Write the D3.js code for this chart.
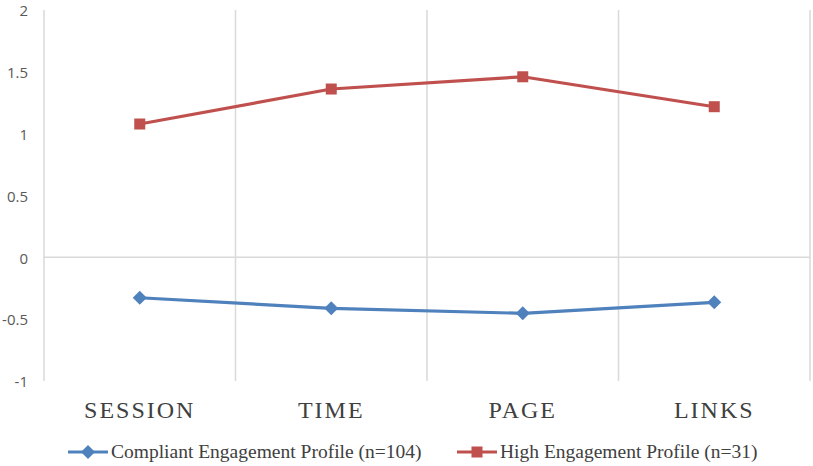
<!DOCTYPE html>
<html>
<head>
<meta charset="utf-8">
<script src="https://cdn.jsdelivr.net/npm/d3@7.9.0/dist/d3.min.js"></script>
<style>
  body { margin: 0; background: #fff; }
  svg { display: block; }
</style>
</head>
<body>
<svg id="chart" width="813" height="466"></svg>
<script>
const categories = ['SESSION', 'TIME', 'PAGE', 'LINKS'];
const compliant = [-0.327, -0.412, -0.453, -0.364];
const high = [1.078, 1.361, 1.46, 1.218];
const yTicks = [-1, -0.5, 0, 0.5, 1, 1.5, 2];
const seriesNames = ['Compliant Engagement Profile (n=104)', 'High Engagement Profile (n=31)'];

const blue = '#4f81bd';
const red = '#c0504d';

const svg = d3.select('#chart');
const margin = { top: 10, right: 3, bottom: 85, left: 44 };
const width = 813 - margin.left - margin.right;
const height = 466 - margin.top - margin.bottom;

const x = d3.scaleBand().domain(categories).range([margin.left, margin.left + width]);
const y = d3.scaleLinear().domain([-1, 2]).range([margin.top + height, margin.top]);
const cx = (i) => x(categories[i]) + x.bandwidth() / 2;

// vertical gridlines at band edges
const edges = categories.map((c) => x(c)).concat([x(categories[categories.length - 1]) + x.bandwidth()]);
svg.append('g')
  .selectAll('line')
  .data(edges)
  .join('line')
  .attr('x1', (d) => d).attr('x2', (d) => d)
  .attr('y1', y(2)).attr('y2', y(-1))
  .attr('stroke', '#d9d9d9')
  .attr('stroke-width', 1.5);

// zero line
svg.append('line')
  .attr('x1', margin.left).attr('x2', margin.left + width)
  .attr('y1', y(0)).attr('y2', y(0))
  .attr('stroke', '#d9d9d9')
  .attr('stroke-width', 1.5);

// y tick labels
svg.append('g')
  .selectAll('text')
  .data(yTicks)
  .join('text')
  .attr('x', 28)
  .attr('y', (d) => y(d) + 1)
  .attr('dy', '0.35em')
  .attr('text-anchor', 'end')
  .attr('font-family', 'Open Sans, sans-serif')
  .attr('font-size', 15)
  .attr('fill', '#595959')
  .text((d) => d);

// x labels
svg.append('g')
  .selectAll('text')
  .data(categories)
  .join('text')
  .attr('x', (d) => x(d) + x.bandwidth() / 2)
  .attr('y', 418)
  .attr('text-anchor', 'middle')
  .attr('font-family', 'Liberation Serif, Times New Roman, serif')
  .attr('font-size', 24)
  .attr('letter-spacing', 2)
  .attr('fill', '#404040')
  .text((d) => d);

const line = d3.line()
  .x((d, i) => cx(i))
  .y((d) => y(d));

function marker(sel, type, color) {
  if (type === 'square') {
    sel.append('rect')
      .attr('x', -5.5).attr('y', -5.5)
      .attr('width', 11).attr('height', 11)
      .attr('fill', color);
  } else {
    sel.append('path')
      .attr('d', 'M0,-7L7,0L0,7L-7,0Z')
      .attr('fill', color);
  }
}

function drawSeries(values, color, type) {
  svg.append('path')
    .datum(values)
    .attr('d', line)
    .attr('fill', 'none')
    .attr('stroke', color)
    .attr('stroke-width', 3.2)
    .attr('stroke-linejoin', 'round');
  svg.append('g')
    .selectAll('g')
    .data(values)
    .join('g')
    .attr('transform', (d, i) => `translate(${cx(i)},${y(d)})`)
    .each(function () { marker(d3.select(this), type, color); });
}

drawSeries(compliant, blue, 'diamond');
drawSeries(high, red, 'square');

// legend
const legend = [
  { name: seriesNames[0], color: blue, type: 'diamond', x: 68 },
  { name: seriesNames[1], color: red, type: 'square', x: 457 },
];
const lg = svg.append('g')
  .selectAll('g')
  .data(legend)
  .join('g')
  .attr('transform', (d) => `translate(${d.x},452)`);
lg.append('line')
  .attr('x1', 0).attr('x2', 40)
  .attr('stroke', (d) => d.color)
  .attr('stroke-width', 3.2);
lg.append('g')
  .attr('transform', 'translate(20,0)')
  .each(function (d) { marker(d3.select(this), d.type, d.color); });
lg.append('text')
  .attr('x', 43)
  .attr('y', 6)
  .attr('font-family', 'Liberation Serif, Times New Roman, serif')
  .attr('font-size', 19.5)
  .attr('fill', '#404040')
  .text((d) => d.name);
</script>
</body>
</html>
